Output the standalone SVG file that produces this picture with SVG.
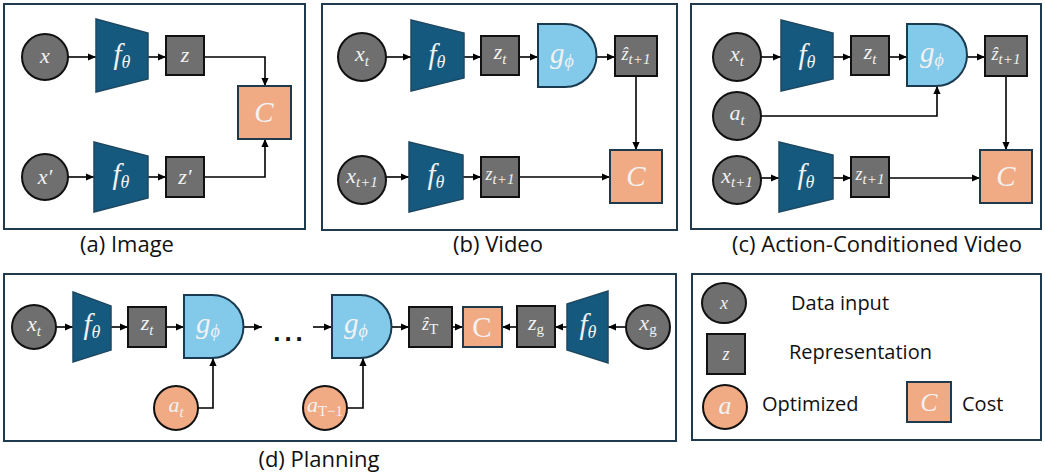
<svg xmlns="http://www.w3.org/2000/svg" width="1045" height="472" viewBox="0 0 1045 472">
<style>
.panel{fill:#fff;stroke:#1f3a4d;stroke-width:2}
.gray{fill:#6f6f6f;stroke:#111;stroke-width:2}
.enc{fill:#155a7e;stroke:#1e4862;stroke-width:1.5}
.pred{fill:#83c9ea;stroke:#1a3a50;stroke-width:2}
.cost{fill:#f0aa84;stroke:#1f3a4d;stroke-width:2}
.opt{fill:#f0aa84;stroke:#111;stroke-width:2}
.conn path{stroke:#000;stroke-width:1.6;fill:none;marker-end:url(#ah)}
.m{font-family:"Liberation Serif","DejaVu Serif",serif;font-style:italic;fill:#f2f2f2;text-anchor:middle;font-size:22px}
.big{font-size:29px}
.sub{font-size:15px}
.sub2{font-size:18px}
.up{font-style:normal}
.cap{font-family:"Open Sans","Liberation Sans",sans-serif;font-size:22px;fill:#111;text-anchor:middle}
.leg{font-family:"Open Sans","Liberation Sans",sans-serif;font-size:20px;fill:#111}
</style>
<defs>
<marker id="ah" viewBox="0 0 10 10" refX="10" refY="5" markerWidth="9" markerHeight="8" markerUnits="userSpaceOnUse" orient="auto">
<path d="M0,0.5 L10,5 L0,9.5 z" fill="#000"/>
</marker>
</defs>

<!-- panels -->
<rect class="panel" x="4" y="4" width="301" height="225"/>
<rect class="panel" x="322" y="4" width="355" height="226"/>
<rect class="panel" x="691" y="4" width="350" height="225"/>
<rect class="panel" x="4" y="274" width="672" height="167"/>
<rect class="panel" x="692" y="274" width="349" height="166"/>

<!-- connectors -->
<g class="conn">
<path d="M68,57 H96"/>
<path d="M148,57 H166"/>
<path d="M204,57 H265 V86"/>
<path d="M68,177 H94"/>
<path d="M148,177 H166"/>
<path d="M204,177 H265 V139"/>

<path d="M386,57 H411"/>
<path d="M464,57 H481"/>
<path d="M519,57 H538"/>
<path d="M596,57 H615"/>
<path d="M636,76 V150"/>
<path d="M386,177 H409"/>
<path d="M463,177 H481"/>
<path d="M519,177 H610"/>

<path d="M761,57 H781"/>
<path d="M833,57 H851"/>
<path d="M889,57 H907"/>
<path d="M967,57 H985"/>
<path d="M1006,76 V150"/>
<path d="M761,116 H937 V86"/>
<path d="M761,178 H779"/>
<path d="M833,178 H851"/>
<path d="M889,178 H980"/>

<path d="M56,327 H73"/>
<path d="M111,327 H128"/>
<path d="M166,327 H184"/>
<path d="M244,327 H262"/>
<path d="M313,327 H332"/>
<path d="M392,327 H409"/>
<path d="M452,327 H463"/>
<path d="M517,327 H502"/>
<path d="M567,327 H555"/>
<path d="M626,327 H608"/>
<path d="M198,408 H213 V358"/>
<path d="M347,408 H363 V358"/>
</g>

<!-- (a) Image -->
<g id="a-x"><circle class="gray" cx="45" cy="57" r="23"/><text class="m" x="45" y="63">x</text></g>
<g id="a-f1"><polygon class="enc" points="96,19 148,33 148,79 96,92"/><text class="m big" x="122" y="64">f<tspan class="sub2" dy="4">θ</tspan></text></g>
<g id="a-z"><rect class="gray" x="166" y="36" width="38" height="39"/><text class="m" x="185" y="62">z</text></g>
<g id="a-C"><rect class="cost" x="238" y="86" width="53" height="53"/><text class="m big" x="264" y="122">C</text></g>
<g id="a-x2"><circle class="gray" cx="45" cy="177" r="23"/><text class="m" x="45" y="184">x′</text></g>
<g id="a-f2"><polygon class="enc" points="94,142 148,156 148,198 94,212"/><text class="m big" x="121" y="184">f<tspan class="sub2" dy="4">θ</tspan></text></g>
<g id="a-z2"><rect class="gray" x="166" y="157" width="38" height="40"/><text class="m" x="185" y="184">z′</text></g>
<text class="cap" x="127" y="252">(a) Image</text>

<!-- (b) Video -->
<g id="b-x"><circle class="gray" cx="362" cy="57" r="24"/><text class="m" x="362" y="61">x<tspan class="sub" dy="5">t</tspan></text></g>
<g id="b-f1"><polygon class="enc" points="411,20 464,33 464,78 411,91"/><text class="m big" x="437" y="64">f<tspan class="sub2" dy="4">θ</tspan></text></g>
<g id="b-z"><rect class="gray" x="481" y="36" width="38" height="39"/><text class="m" x="500" y="59">z<tspan class="sub" dy="5">t</tspan></text></g>
<g id="b-g"><path class="pred" d="M538,24 H565 A31.5,31.5 0 0 1 565,87 H538 Z"/><text class="m big" x="562" y="63">g<tspan class="sub2" dy="4">ϕ</tspan></text></g>
<g id="b-zh"><rect class="gray" x="615" y="36" width="42" height="40"/><text class="m" x="636" y="60" style="font-size:18px">ẑ<tspan class="sub" dy="4">t+1</tspan></text></g>
<g id="b-C"><rect class="cost" x="610" y="150" width="52" height="53"/><text class="m big" x="636" y="186">C</text></g>
<g id="b-x2"><circle class="gray" cx="362" cy="180" r="24"/><text class="m" x="362" y="183">x<tspan class="sub" dy="4">t+1</tspan></text></g>
<g id="b-f2"><polygon class="enc" points="409,142 463,155 463,199 409,212"/><text class="m big" x="436" y="184">f<tspan class="sub2" dy="4">θ</tspan></text></g>
<g id="b-z2"><rect class="gray" x="481" y="157" width="38" height="40"/><text class="m" x="500" y="180" style="font-size:18px">z<tspan class="sub" dy="4">t+1</tspan></text></g>
<text class="cap" x="498" y="252">(b) Video</text>

<!-- (c) Action-Conditioned Video -->
<g id="c-x"><circle class="gray" cx="737" cy="57" r="24"/><text class="m" x="737" y="61">x<tspan class="sub" dy="5">t</tspan></text></g>
<g id="c-f1"><polygon class="enc" points="781,20 833,33 833,79 781,91"/><text class="m big" x="807" y="64">f<tspan class="sub2" dy="4">θ</tspan></text></g>
<g id="c-z"><rect class="gray" x="851" y="36" width="38" height="39"/><text class="m" x="870" y="59">z<tspan class="sub" dy="5">t</tspan></text></g>
<g id="c-g"><path class="pred" d="M907,24 H936 A31,31 0 0 1 936,86 H907 Z"/><text class="m big" x="932" y="62">g<tspan class="sub2" dy="4">ϕ</tspan></text></g>
<g id="c-zh"><rect class="gray" x="985" y="36" width="42" height="40"/><text class="m" x="1006" y="60" style="font-size:18px">ẑ<tspan class="sub" dy="4">t+1</tspan></text></g>
<g id="c-a"><circle class="gray" cx="737" cy="116" r="24"/><text class="m" x="737" y="120">a<tspan class="sub" dy="5">t</tspan></text></g>
<g id="c-C"><rect class="cost" x="980" y="150" width="52" height="53"/><text class="m big" x="1006" y="186">C</text></g>
<g id="c-x2"><circle class="gray" cx="737" cy="180" r="24"/><text class="m" x="737" y="183">x<tspan class="sub" dy="4">t+1</tspan></text></g>
<g id="c-f2"><polygon class="enc" points="779,142 833,155 833,199 779,212"/><text class="m big" x="806" y="184">f<tspan class="sub2" dy="4">θ</tspan></text></g>
<g id="c-z2"><rect class="gray" x="851" y="157" width="38" height="40"/><text class="m" x="870" y="180" style="font-size:18px">z<tspan class="sub" dy="4">t+1</tspan></text></g>
<text class="cap" x="877" y="252">(c) Action-Conditioned Video</text>

<!-- (d) Planning -->
<g id="d-x"><circle class="gray" cx="34" cy="327" r="22"/><text class="m" x="34" y="331">x<tspan class="sub" dy="5">t</tspan></text></g>
<g id="d-f1"><polygon class="enc" points="73,292 111,306 111,350 73,362"/><text class="m big" x="92" y="334">f<tspan class="sub2" dy="4">θ</tspan></text></g>
<g id="d-z"><rect class="gray" x="128" y="307" width="38" height="40"/><text class="m" x="147" y="330">z<tspan class="sub" dy="5">t</tspan></text></g>
<g id="d-g1"><path class="pred" d="M184,295 H212 A31.5,31.5 0 0 1 212,358 H184 Z"/><text class="m big" x="208" y="333">g<tspan class="sub2" dy="4">ϕ</tspan></text></g>
<text x="290" y="341" style="font-family:'Liberation Sans',sans-serif;font-size:26px;font-weight:bold;letter-spacing:4px;fill:#111;text-anchor:middle">...</text>
<g id="d-g2"><path class="pred" d="M332,295 H360 A31.5,31.5 0 0 1 360,358 H332 Z"/><text class="m big" x="356" y="333">g<tspan class="sub2" dy="4">ϕ</tspan></text></g>
<g id="d-zT"><rect class="gray" x="409" y="307" width="43" height="40"/><text class="m" x="430" y="330" style="font-size:18px">ẑ<tspan class="sub up" dy="4">T</tspan></text></g>
<g id="d-C"><rect class="cost" x="463" y="307" width="39" height="40"/><text class="m big up" x="482" y="337">C</text></g>
<g id="d-zg"><rect class="gray" x="517" y="306" width="38" height="41"/><text class="m" x="536" y="330">z<tspan class="sub up" dy="4">g</tspan></text></g>
<g id="d-f2"><polygon class="enc" points="567,304 608,291 608,363 567,350"/><text class="m big" x="588" y="334">f<tspan class="sub2" dy="4">θ</tspan></text></g>
<g id="d-xg"><circle class="gray" cx="648" cy="327" r="22"/><text class="m" x="648" y="330">x<tspan class="sub up" dy="4">g</tspan></text></g>
<g id="d-a1"><circle class="opt" cx="176" cy="408" r="22"/><text class="m" x="176" y="412">a<tspan class="sub" dy="5">t</tspan></text></g>
<g id="d-a2"><circle class="opt" cx="325" cy="408" r="22"/><text class="m" x="325" y="412">a<tspan class="sub up" dy="4">T−1</tspan></text></g>
<text class="cap" x="319" y="467">(d) Planning</text>

<!-- legend -->
<g id="leg-x"><ellipse class="gray" cx="724" cy="303" rx="22" ry="20"/><text class="m" x="724" y="309" style="font-size:18px">x</text></g>
<text class="leg" x="791" y="310">Data input</text>
<g id="leg-z"><rect class="gray" x="707" y="334" width="38" height="40"/><text class="m" x="726" y="360" style="font-size:18px">z</text></g>
<text class="leg" x="789" y="359">Representation</text>
<g id="leg-a"><circle class="opt" cx="725" cy="407" r="22"/><text class="m" x="725" y="414" style="font-size:26px">a</text></g>
<text class="leg" x="762" y="411">Optimized</text>
<g id="leg-C"><rect class="cost" x="907" y="382" width="44" height="40"/><text class="m" x="929" y="411" style="font-size:26px">C</text></g>
<text class="leg" x="962" y="411">Cost</text>
</svg>
